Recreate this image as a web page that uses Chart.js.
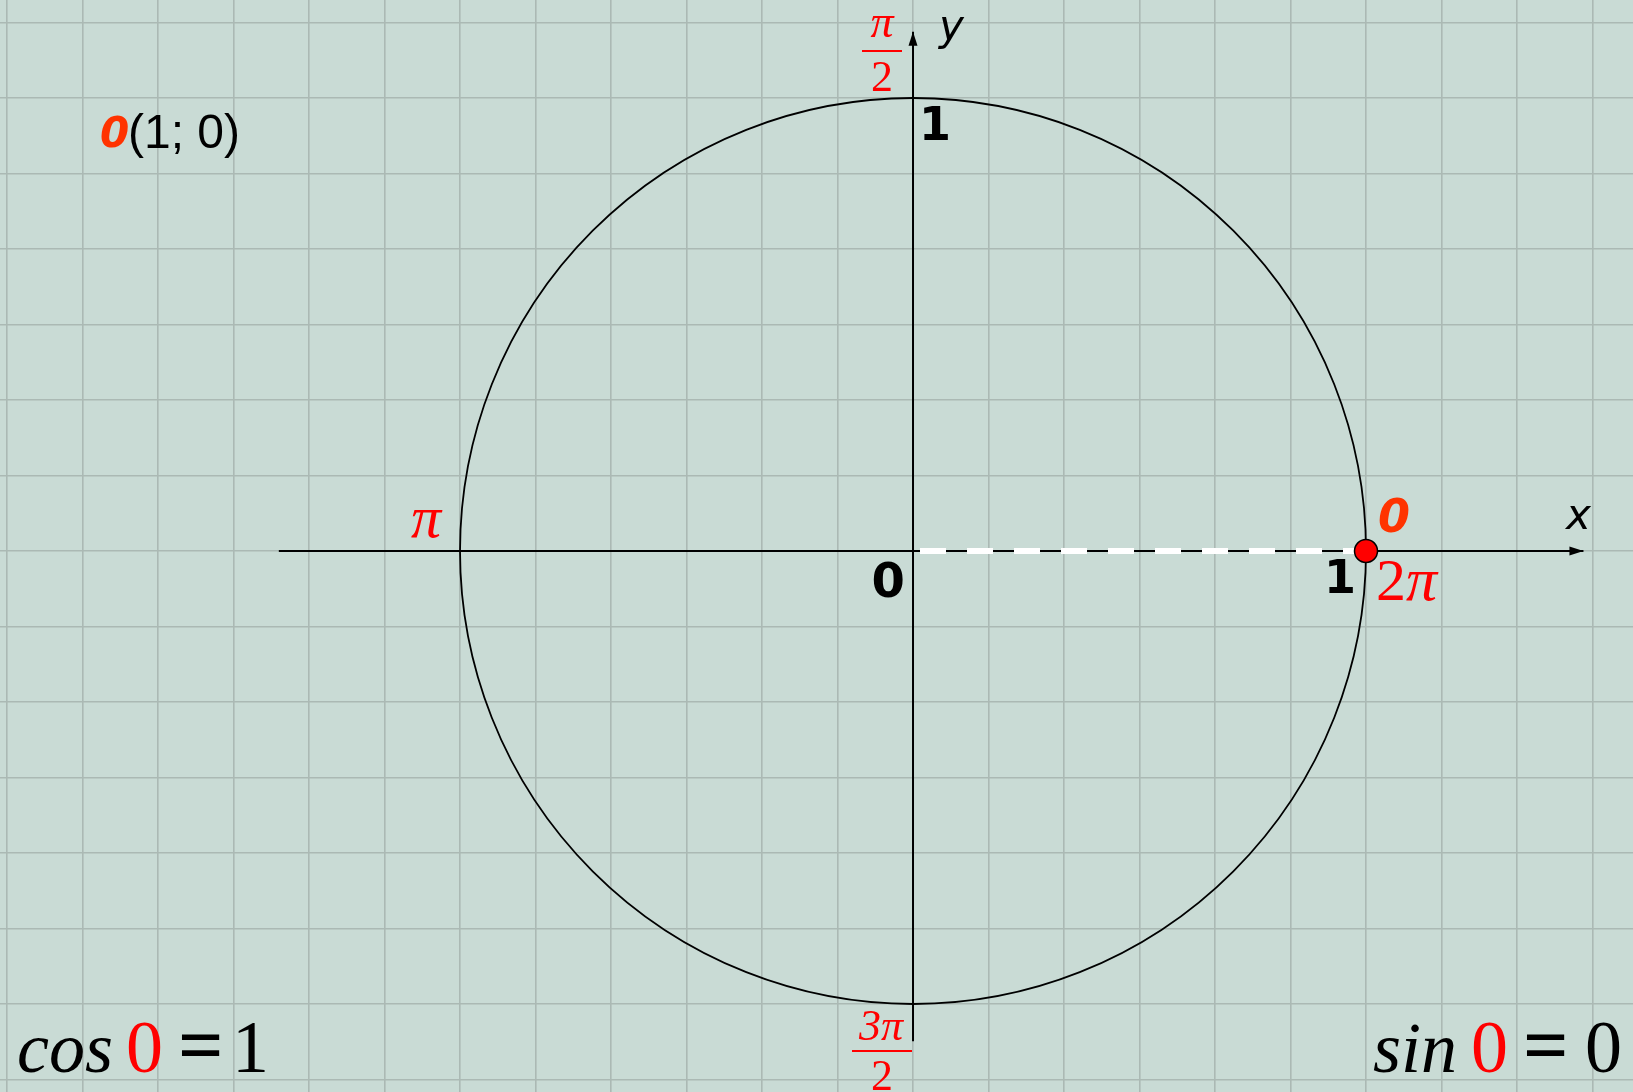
<!DOCTYPE html>
<html>
<head>
<meta charset="utf-8">
<script src="https://cdn.jsdelivr.net/npm/chart.js@4.4.0/dist/chart.umd.min.js"></script>
<style>
  html, body { margin: 0; padding: 0; background: #c9dbd5; }
  #wrap { width: 1633px; height: 1092px; }
</style>
</head>
<body>
<div id="wrap"><canvas id="myChart"></canvas></div>
<script>
// unit circle, angle 0 -> point (1; 0)
const circleCenter = [0, 0];
const circleRadius = 1;
const xAxisLine = [{ x: -1.40, y: 0 }, { x: 1.48, y: 0 }];
const yAxisLine = [{ x: 0, y: -1.082 }, { x: 0, y: 1.146 }];
const cosSegment = [{ x: 0, y: 0 }, { x: 1, y: 0 }];
const anglePoint = [{ x: 1, y: 0 }];
const gridStep = 1 / 6;

const SANS = '"DejaVu Sans", Verdana, sans-serif';
const ARIAL = '"Liberation Sans", Arial, sans-serif';
const SERIF = '"Liberation Serif", "Times New Roman", serif';

function gridTicks(scale) {
  const ticks = [];
  for (let k = Math.ceil(scale.min / gridStep); k <= Math.floor(scale.max / gridStep); k++) {
    ticks.push({ value: k * gridStep });
  }
  scale.ticks = ticks;
}

const bgPlugin = {
  id: 'bg',
  beforeDraw(chart) {
    const c = chart.ctx;
    c.save();
    c.fillStyle = '#c9dbd5';
    c.fillRect(0, 0, chart.width, chart.height);
    c.restore();
  }
};

// circle drawn through the scales, under the datasets
const circlePlugin = {
  id: 'circle',
  beforeDatasetsDraw(chart) {
    const { x, y } = chart.scales;
    const c = chart.ctx;
    const cx = x.getPixelForValue(circleCenter[0]);
    const cy = y.getPixelForValue(circleCenter[1]);
    const rx = x.getPixelForValue(circleCenter[0] + circleRadius) - cx;
    const ry = cy - y.getPixelForValue(circleCenter[1] + circleRadius);
    c.save();
    c.beginPath();
    c.ellipse(cx, cy, rx, ry, 0, 0, Math.PI * 2);
    c.strokeStyle = '#000';
    c.lineWidth = 1.8;
    c.stroke();
    c.restore();
  }
};

function txt(c, s, px, py, font, color, align) {
  c.font = font;
  c.fillStyle = color;
  c.textAlign = align || 'left';
  c.textBaseline = 'alphabetic';
  c.fillText(s, px, py);
  return c.measureText(s).width;
}

const labelsPlugin = {
  id: 'labels',
  afterDatasetsDraw(chart) {
    const { x, y } = chart.scales;
    const c = chart.ctx;
    c.save();

    // arrow heads
    c.fillStyle = '#000';
    const ax = x.getPixelForValue(xAxisLine[1].x), ay = y.getPixelForValue(0);
    c.beginPath();
    c.moveTo(ax, ay);
    c.lineTo(ax - 14, ay - 4.5);
    c.lineTo(ax - 14, ay + 4.5);
    c.closePath();
    c.fill();
    const bx = x.getPixelForValue(0), by = y.getPixelForValue(yAxisLine[1].y);
    c.beginPath();
    c.moveTo(bx, by);
    c.lineTo(bx - 4.5, by + 14);
    c.lineTo(bx + 4.5, by + 14);
    c.closePath();
    c.fill();

    // header 0(1; 0)
    txt(c, '0', 100, 147, 'bold italic 42px ' + SANS, '#ff3300');
    txt(c, '(1; 0)', 128, 148, '48px ' + ARIAL, '#000');

    // axis names and unit marks
    txt(c, 'y', 939, 40, 'italic 42px ' + SANS, '#000');
    txt(c, 'x', 1566, 529, 'italic 42px ' + SANS, '#000');
    txt(c, '1', 919, 140, 'bold 46px ' + SANS, '#000');
    txt(c, '0', 905, 597, 'bold 48px ' + SANS, '#000', 'right');
    txt(c, '1', 1356, 593, 'bold 46px ' + SANS, '#000', 'right');
    txt(c, '0', 1378, 532, 'bold italic 46px ' + SANS, '#ff3300');

    // angle marks
    txt(c, '\u03c0', 882, 37, 'italic 46px ' + SERIF, '#ff0000', 'center');
    c.fillStyle = '#ff0000';
    c.fillRect(862, 50, 40, 2);
    txt(c, '2', 882, 91, '44px ' + SERIF, '#ff0000', 'center');

    txt(c, '3\u03c0', 881, 1040, 'italic 44px ' + SERIF, '#ff0000', 'center');
    c.fillStyle = '#ff0000';
    c.fillRect(852, 1050, 60, 2);
    txt(c, '2', 882, 1090, '44px ' + SERIF, '#ff0000', 'center');

    txt(c, '\u03c0', 411, 537, 'italic 60px ' + SERIF, '#ff0000');
    const w = txt(c, '2', 1376, 600, '60px ' + SERIF, '#ff0000');
    txt(c, '\u03c0', 1376 + w, 600, 'italic 62px ' + SERIF, '#ff0000');

    // cos 0 = 1, sin 0 = 0
    txt(c, 'cos', 17, 1072, 'italic 72px ' + SERIF, '#000');
    txt(c, '0', 126, 1072, '74px ' + SERIF, '#ff0000');
    txt(c, '=', 178, 1072, 'bold 80px ' + SERIF, '#000');
    txt(c, '1', 232, 1072, '74px ' + SERIF, '#000');

    txt(c, 'sin', 1373, 1072, 'italic 72px ' + SERIF, '#000');
    txt(c, '0', 1471, 1072, '74px ' + SERIF, '#ff0000');
    txt(c, '=', 1523, 1072, 'bold 80px ' + SERIF, '#000');
    txt(c, '0', 1585, 1072, '74px ' + SERIF, '#000');

    c.restore();
  }
};

const ctx = document.getElementById('myChart');

new Chart(ctx, {
  type: 'scatter',
  data: {
    datasets: [
      {
        label: 'angle 0',
        data: anglePoint,
        pointRadius: 11.5,
        pointBackgroundColor: '#ff0000',
        pointBorderColor: '#000',
        pointBorderWidth: 1.5,
        order: 0
      },
      {
        label: 'cos',
        data: cosSegment,
        showLine: true,
        borderColor: '#ffffff',
        borderWidth: 6,
        borderDash: [26, 21],
        borderDashOffset: 40,
        pointRadius: 0,
        order: 1
      },
      {
        label: 'x axis',
        data: xAxisLine,
        showLine: true,
        borderColor: '#000',
        borderWidth: 2,
        pointRadius: 0,
        order: 2
      },
      {
        label: 'y axis',
        data: yAxisLine,
        showLine: true,
        borderColor: '#000',
        borderWidth: 2,
        pointRadius: 0,
        order: 2
      }
    ]
  },
  options: {
    responsive: true,
    maintainAspectRatio: false,
    animation: false,
    events: [],
    layout: { padding: 0, autoPadding: false },
    plugins: {
      legend: { display: false },
      tooltip: { enabled: false }
    },
    scales: {
      x: {
        type: 'linear',
        min: -2.0155,
        max: 1.5894,
        afterBuildTicks: gridTicks,
        ticks: { display: false },
        grid: { drawTicks: false, color: '#abb9b4', lineWidth: 1.6 },
        border: { display: false }
      },
      y: {
        type: 'linear',
        min: -1.1943,
        max: 1.2163,
        afterBuildTicks: gridTicks,
        ticks: { display: false },
        grid: { drawTicks: false, color: '#abb9b4', lineWidth: 1.6 },
        border: { display: false }
      }
    }
  },
  plugins: [bgPlugin, circlePlugin, labelsPlugin]
});
</script>
</body>
</html>
